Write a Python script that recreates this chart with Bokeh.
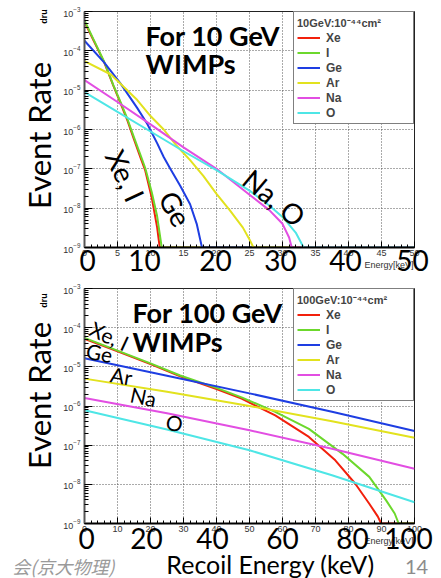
from bokeh.plotting import figure
from bokeh.models import Label, Legend, LegendItem, FixedTicker, Range1d, GridBox
from bokeh.layouts import column
from bokeh.embed import file_html
from bokeh.resources import INLINE

targets = ["Xe", "I", "Ge", "Ar", "Na", "O"]
colors = ["#f2200c", "#6cd82c", "#1e3ee2", "#e2e21e", "#e24ee2", "#4ee6e6"]

# ---- 10 GeV WIMPs (dru vs recoil energy keV); values at the axis floor drawn at 1e-9
e10_xe = [0, 1.4, 3, 4.4, 5.5, 6.5, 7.5, 8.5, 9.2, 10.2, 11, 11.4, 50]
r10_xe = [5.4e-4, 1.8e-4, 5.0e-5, 1.26e-5, 4.5e-6, 1.7e-6, 5.6e-7, 1.9e-7, 9.1e-8, 1.8e-8, 3.3e-9, 1e-9, 1e-9]
e10_i = [0, 1.4, 3, 4.4, 5.5, 6.5, 7.5, 8.5, 9.2, 10.2, 11, 11.7, 50]
r10_i = [5.9e-4, 1.9e-4, 5.2e-5, 1.3e-5, 4.8e-6, 1.85e-6, 6.3e-7, 2.2e-7, 1.05e-7, 2.5e-8, 6.3e-9, 1e-9, 1e-9]
e10_ge = [0, 3, 5.5, 8, 9.5, 11, 12, 13, 14.5, 16, 17, 17.8, 50]
r10_ge = [1.8e-4, 5.0e-5, 1.45e-5, 3.5e-6, 1.4e-6, 4.5e-7, 2.0e-7, 1.0e-7, 3.7e-8, 1.26e-8, 4.0e-9, 1e-9, 1e-9]
e10_ar = [0, 4, 8, 10, 12, 14, 16, 18, 20, 22, 24, 25, 25.6, 50]
r10_ar = [5.5e-5, 2.5e-5, 5.6e-6, 2.2e-6, 1.0e-6, 3.8e-7, 1.66e-7, 6.6e-8, 2.3e-8, 8.9e-9, 3.2e-9, 1.6e-9, 1e-9, 1e-9]
e10_na = [0, 5, 10, 15, 20, 25, 28, 30, 31, 31.4, 50]
r10_na = [1.8e-5, 5.0e-6, 1.35e-6, 3.5e-7, 1.0e-7, 2.2e-8, 8.9e-9, 4.0e-9, 1.8e-9, 1e-9, 1e-9]
e10_o = [0, 5, 10, 15, 20, 25, 28, 30, 32, 33.2, 50]
r10_o = [8.9e-6, 2.8e-6, 8.9e-7, 2.8e-7, 9.3e-8, 2.8e-8, 1.17e-8, 6.0e-9, 2.4e-9, 1e-9, 1e-9]

# ---- 100 GeV WIMPs
e100_xe = [0, 10, 20, 29, 40, 47.6, 57.8, 68, 76, 82, 86.3, 88.9, 89.9, 100]
r100_xe = [5.2e-5, 2.5e-5, 1.17e-5, 5.75e-6, 2.7e-6, 1.55e-6, 5.75e-7, 1.62e-7, 4.1e-8, 1.05e-8, 3.2e-9, 1.5e-9, 1e-9, 1e-9]
e100_i = [0, 10, 20, 29, 40, 47.6, 57.8, 68, 78.2, 86.3, 91.4, 94, 95.2, 100]
r100_i = [5.5e-5, 2.6e-5, 1.23e-5, 6.0e-6, 2.9e-6, 1.66e-6, 7.1e-7, 2.6e-7, 6.0e-8, 1.55e-8, 3.9e-9, 1.8e-9, 1e-9, 1e-9]
e100_ge = [0, 25, 50, 75, 100]
r100_ge = [1.66e-5, 5.9e-6, 2.1e-6, 7.1e-7, 2.3e-7]
e100_ar = [0, 25, 50, 75, 100]
r100_ar = [5.0e-6, 2.3e-6, 1.0e-6, 4.1e-7, 1.55e-7]
e100_na = [0, 25, 50, 75, 100]
r100_na = [1.6e-6, 6.5e-7, 2.4e-7, 8.1e-8, 2.5e-8]
e100_o = [0, 25, 50, 75, 100]
r100_o = [7.8e-7, 2.5e-7, 7.4e-8, 1.7e-8, 3.5e-9]

series10 = [(e10_xe, r10_xe), (e10_i, r10_i), (e10_ge, r10_ge), (e10_ar, r10_ar), (e10_na, r10_na), (e10_o, r10_o)]
series100 = [(e100_xe, r100_xe), (e100_i, r100_i), (e100_ge, r100_ge), (e100_ar, r100_ar), (e100_na, r100_na), (e100_o, r100_o)]

x_ticks10 = [0, 5, 10, 15, 20, 25, 30, 35, 40, 45, 50]
x_minor10 = list(range(0, 51))
x_ticks100 = [0, 10, 20, 30, 40, 50, 60, 70, 80, 90, 100]
x_minor100 = list(range(0, 101, 2))
big_ticks10 = ["0", "10", "20", "30", "40", "50"]
big_ticks100 = ["0", "20", "40", "60", "80", "100"]
y_ticks = [1e-9, 1e-8, 1e-7, 1e-6, 1e-5, 1e-4, 1e-3]
y_minor = [m * d for d in [1e-9, 1e-8, 1e-7, 1e-6, 1e-5, 1e-4] for m in range(2, 10)]

W = 441
H = 578
FL = 84   # frame left (page px)
FR = 414  # frame right (page px)


def make_fig(height, btop, bbot, xmax, xt, xm, series, title):
    p = figure(width=W, height=height, y_axis_type="log",
               x_range=Range1d(0, xmax), y_range=Range1d(1e-9, 1e-3),
               output_backend="svg", toolbar_location=None,
               min_border_left=FL, min_border_right=W - FR,
               min_border_top=btop, min_border_bottom=bbot)
    p.background_fill_color = "white"
    p.border_fill_color = "white"
    p.outline_line_color = "#222222"
    p.outline_line_width = 1
    p.xaxis.ticker = FixedTicker(ticks=xt, minor_ticks=xm)
    p.yaxis.ticker = FixedTicker(ticks=y_ticks, minor_ticks=y_minor)
    for ax in (p.xaxis, p.yaxis):
        ax.major_tick_in = 6
        ax.major_tick_out = 0
        ax.minor_tick_in = 3
        ax.minor_tick_out = 0
        ax.major_label_text_font = "Liberation Sans"
        ax.major_label_text_font_size = "9px"
        ax.major_label_text_color = "#333333"
        ax.axis_line_width = 2
    p.xaxis.axis_line_color = "black"
    p.yaxis.axis_line_color = "#555555"
    p.yaxis.major_tick_in = 8
    p.yaxis.minor_tick_in = 4
    p.xaxis.major_label_standoff = 2
    p.yaxis.major_label_standoff = 4
    for g in (p.xgrid, p.ygrid):
        g.grid_line_color = "#555555"
        g.grid_line_dash = "1 2"
        g.grid_line_width = 1
    p.xgrid.ticker = FixedTicker(ticks=xt)
    p.ygrid.ticker = FixedTicker(ticks=y_ticks)
    items = []
    for name, col, (xs, ys) in zip(targets, colors, series):
        r = p.line(xs, ys, line_color=col, line_width=2)
        items.append(LegendItem(label=name, renderers=[r]))
    leg = Legend(items=items, location="top_right", title=title,
                 margin=0, padding=3, spacing=0,
                 glyph_width=23, glyph_height=15, label_height=15,
                 label_standoff=6, label_width=84,
                 label_text_font="Liberation Sans", label_text_font_style="bold",
                 label_text_font_size="12px",
                 title_text_font="Liberation Sans", title_text_font_style="bold",
                 title_text_font_size="11px", title_standoff=0,
                 border_line_color="black", border_line_width=1,
                 background_fill_color="white", background_fill_alpha=1)
    p.add_layout(leg)
    return p


p1 = make_fig(272, 11, 25, 50, x_ticks10, x_minor10, series10, "10GeV:10\u207b\u2074\u2074cm\u00b2")
p2 = make_fig(306, 16, 55, 100, x_ticks100, x_minor100, series100, "100GeV:10\u207b\u2074\u2074cm\u00b2")

# ---- transparent overlay (slide text boxes), page-pixel coordinates
ov = figure(width=W, height=H, x_range=Range1d(0, W), y_range=Range1d(H, 0),
            x_axis_location=None, y_axis_location=None,
            output_backend="svg", toolbar_location=None, min_border=0)
ov.grid.visible = False
ov.outline_line_color = None
ov.background_fill_alpha = 0
ov.border_fill_alpha = 0


def put(px, py, text, size, font="Lato", style="normal", color="black",
        align="center", baseline="middle", angle=0):
    ov.add_layout(Label(x=px, y=py, text=text, text_font=font,
                        text_font_size=f"{size}px", text_font_style=style,
                        text_color=color, text_align=align, text_baseline=baseline,
                        angle=angle, angle_units="deg"))


# top panel
put(413, 264, "Energy[keV]", 9, font="Liberation Sans", color="#333333", align="right")
for t, px in zip(big_ticks10, [87, 144, 215, 280, 345, 412]):
    put(px, 260, t, 28)
put(145, 35, "For 10 GeV", 27, style="bold", align="left", baseline="alphabetic")
put(145, 63, "WIMPs", 27, style="bold", align="left", baseline="alphabetic")
put(38, 135, "Event Rate", 31, angle=90)
put(43, 16, "dru", 9, font="Liberation Sans", style="bold", angle=90)
put(125, 175, "Xe, I", 28, angle=-65)
put(175, 208, "Ge", 28, angle=-60)
put(274, 197, "Na, O", 28, angle=-40)

# bottom panel
put(413, 540, "Energy[keV]", 9, font="Liberation Sans", color="#333333", align="right")
for t, px in zip(big_ticks100, [86, 146, 212, 282, 352, 408]):
    put(px, 538, t, 28)
put(132, 312, "For 100 GeV", 27, style="bold", align="left", baseline="alphabetic")
put(132, 341, "WIMPs", 27, style="bold", align="left", baseline="alphabetic")
put(38, 395, "Event Rate", 31, angle=90)
put(43, 300, "dru", 9, font="Liberation Sans", style="bold", angle=90)
put(109, 335, "Xe, I", 21, angle=-25)
put(99, 352, "Ge", 21, angle=-10)
put(121, 375, "Ar", 21, angle=-10)
put(143, 396, "Na", 21, angle=-12)
put(174, 422, "O", 21, angle=-10)
put(270, 563, "Recoil Energy (keV)", 25)
put(416, 566, "14", 20, color="#8c8c8c")
put(114, 565, "会(京大物理)", 18, font="Noto Sans CJK JP", style="italic",
    color="#9a9a9a", align="right")

plots = column(p1, p2, spacing=0)
layout = GridBox(children=[(plots, 0, 0), (ov, 0, 0)], width=W, height=H)
open("out.html", "w").write(file_html(layout, INLINE))
